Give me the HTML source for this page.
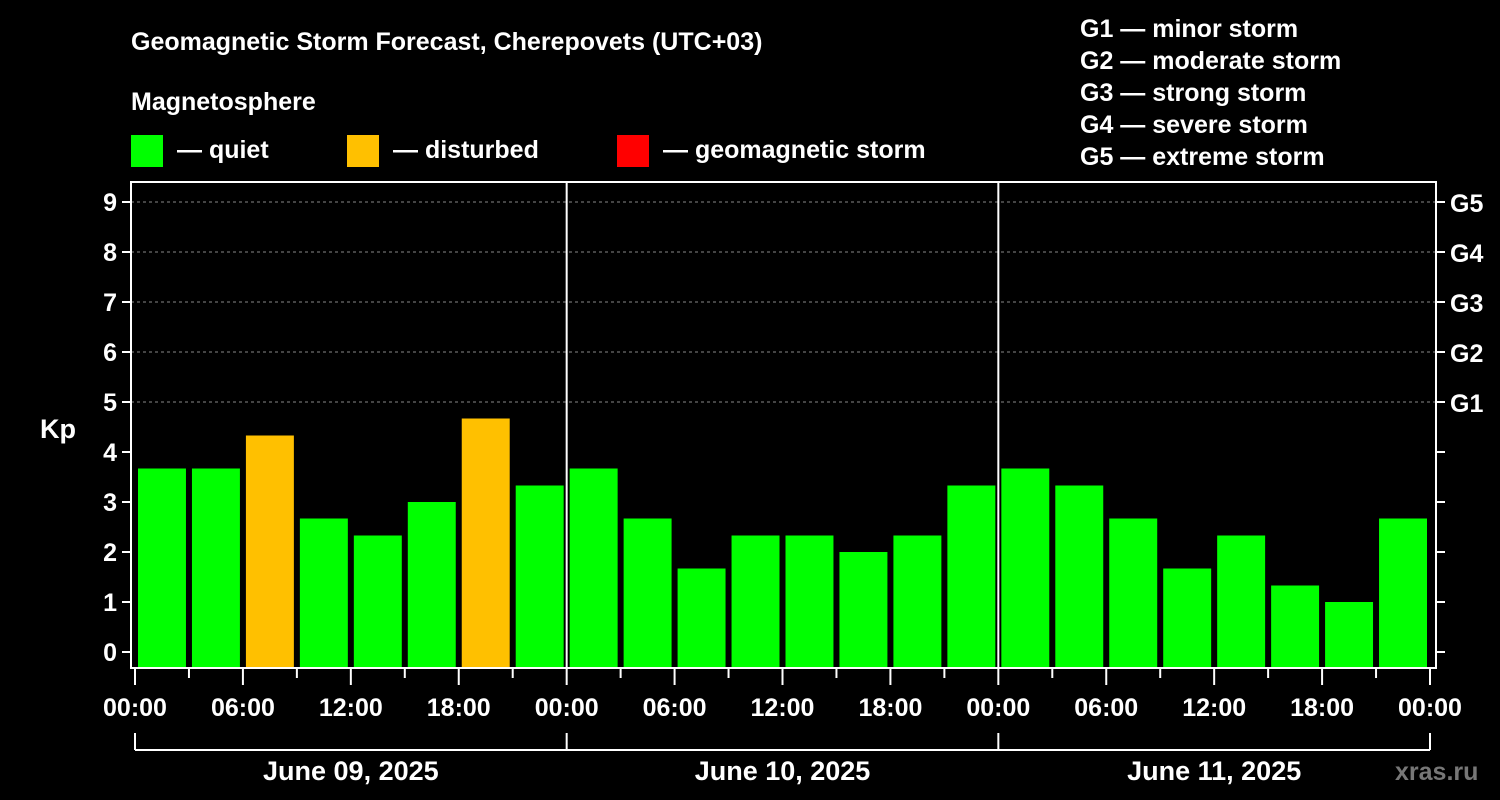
<!DOCTYPE html>
<html><head><meta charset="utf-8"><style>
html,body{margin:0;padding:0;background:#000;}
svg{display:block;font-family:"Liberation Sans",Arial,sans-serif;font-weight:bold;}
</style></head><body>
<svg id="c" width="1500" height="800" xmlns="http://www.w3.org/2000/svg">
<rect width="1500" height="800" fill="#000"/>
<text x="131" y="50" fill="#fff" font-size="25">Geomagnetic Storm Forecast, Cherepovets (UTC+03)</text>
<text x="131" y="110" fill="#fff" font-size="25">Magnetosphere</text>
<g><rect x="131" y="135" width="32" height="32" fill="#00ff00"/><text x="177" y="158" fill="#fff" font-size="25">— quiet</text></g>
<g><rect x="347" y="135" width="32" height="32" fill="#ffc000"/><text x="393" y="158" fill="#fff" font-size="25">— disturbed</text></g>
<g><rect x="617" y="135" width="32" height="32" fill="#ff0000"/><text x="663" y="158" fill="#fff" font-size="25">— geomagnetic storm</text></g>
<g fill="#fff" font-size="25">
<text x="1080" y="37">G1 — minor storm</text>
<text x="1080" y="69">G2 — moderate storm</text>
<text x="1080" y="101">G3 — strong storm</text>
<text x="1080" y="133">G4 — severe storm</text>
<text x="1080" y="165">G5 — extreme storm</text>
</g>
<text x="40" y="438" fill="#fff" font-size="27">Kp</text>
<text x="1395" y="780" fill="#777" font-size="25">xras.ru</text>
<g id="plot"></g>
</svg>
<script>
const kpValues = [3.67,3.67,4.33,2.67,2.33,3.0,4.67,3.33, 3.67,2.67,1.67,2.33,2.33,2.0,2.33,3.33, 3.67,3.33,2.67,1.67,2.33,1.33,1.0,2.67];
const dayLabels = ["June 09, 2025","June 10, 2025","June 11, 2025"];
const hourLabels = ["00:00","06:00","12:00","18:00"];
const yTicks = [0,1,2,3,4,5,6,7,8,9];
const gLabels = ["G1","G2","G3","G4","G5"];

const NS="http://www.w3.org/2000/svg";
const plot=document.getElementById('plot');
const L=131,R=1436,T=182,B=668,X0=135,X1=1430;
const y=v=>652-50*v;
const slot=(X1-X0)/kpValues.length;
const x=i=>X0+slot*i;
function mk(tag,attrs,parent){const e=document.createElementNS(NS,tag);for(const k in attrs)e.setAttribute(k,attrs[k]);(parent||plot).appendChild(e);return e;}
// grid
yTicks.forEach(v=>{if(v>=5){const g=mk('line',{x1:L,x2:R,y1:y(v),y2:y(v),stroke:'#888','stroke-dasharray':'3,3','stroke-width':1});

}});
// bars
kpValues.forEach((v,i)=>{const r=mk('rect',{x:x(i)+3,y:y(v),width:slot-6,height:B-y(v),fill:v>=5?'#ff0000':(v>=4?'#ffc000':'#00ff00')});

});
// frame
const f=mk('rect',{x:L,y:T,width:R-L,height:B-T,fill:'none',stroke:'#fff','stroke-width':2});


// day separators
for(let d=1;d<dayLabels.length;d++){const xs=x(d*8);const s=mk('line',{x1:xs,x2:xs,y1:T,y2:B,stroke:'#fff','stroke-width':2});

}
// y ticks & labels
yTicks.forEach(v=>{
mk('line',{x1:L-9,x2:L,y1:y(v),y2:y(v),stroke:'#fff','stroke-width':2});
mk('line',{x1:R,x2:R+9,y1:y(v),y2:y(v),stroke:'#fff','stroke-width':2});
const t=mk('text',{x:L-14,y:y(v)+9,fill:'#fff','font-size':25,'text-anchor':'end'});t.textContent=v;

});
gLabels.forEach((g,i)=>{const t=mk('text',{x:R+14,y:y(5+i)+10,fill:'#fff','font-size':25});t.textContent=g;

});
// x ticks
for(let i=0;i<=kpValues.length;i++){const xs=x(i);const major=i%2===0;
mk('line',{x1:xs,x2:xs,y1:B,y2:major?685:678,stroke:'#fff','stroke-width':2});
if(major){const t=mk('text',{x:xs,y:716,fill:'#fff','font-size':25,'text-anchor':'middle'});
t.textContent=hourLabels[(i/2)%4];

}}
// day brackets
mk('line',{x1:X0,x2:X1,y1:750,y2:750,stroke:'#fff','stroke-width':2});
for(let d=0;d<=dayLabels.length;d++){const xs=x(d*8);mk('line',{x1:xs,x2:xs,y1:733,y2:750,stroke:'#fff','stroke-width':2});}
dayLabels.forEach((l,d)=>{const t=mk('text',{x:(x(d*8)+x(d*8+8))/2,y:780,fill:'#fff','font-size':27,'text-anchor':'middle'});t.textContent=l;

});
</script>
</body></html>
